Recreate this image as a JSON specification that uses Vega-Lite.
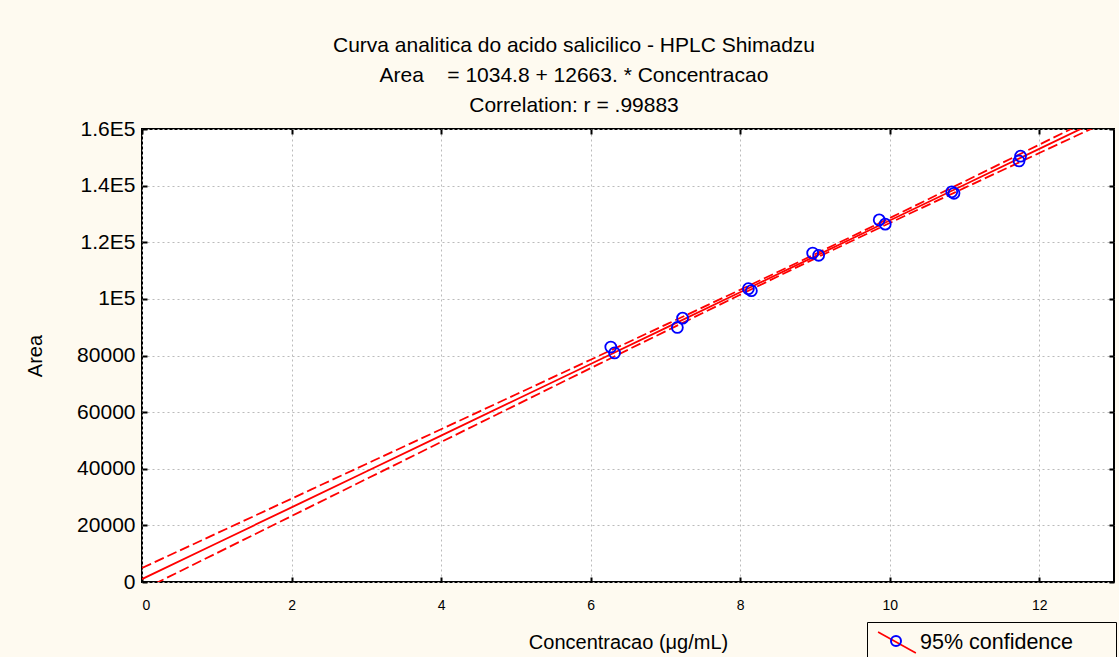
{
  "$schema": "https://vega.github.io/schema/vega-lite/v6.json",
  "width": 972,
  "height": 453,
  "autosize": "none",
  "padding": {"left": 142, "top": 129, "right": 5, "bottom": 75},
  "background": "#FEFAF0",
  "title": {
    "text": ["Curva analitica do acido salicilico - HPLC Shimadzu", "Area\u00a0\u00a0\u00a0 = 1034.8 + 12663. * Concentracao", "Correlation: r = .99883"],
    "anchor": "middle",
    "dx": -54,
    "fontSize": 21,
    "lineHeight": 30,
    "offset": 2,
    "font": "Liberation Sans",
    "fontWeight": "normal",
    "color": "black"
  },
  "datasets": {
    "pts": [
      {"c": 6.27, "a": 83000, "leg": "95% confidence"},
      {"c": 6.32, "a": 80900, "leg": "95% confidence"},
      {"c": 7.16, "a": 89900, "leg": "95% confidence"},
      {"c": 7.23, "a": 93200, "leg": "95% confidence"},
      {"c": 8.11, "a": 103600, "leg": "95% confidence"},
      {"c": 8.15, "a": 102900, "leg": "95% confidence"},
      {"c": 8.97, "a": 116200, "leg": "95% confidence"},
      {"c": 9.05, "a": 115400, "leg": "95% confidence"},
      {"c": 9.86, "a": 127900, "leg": "95% confidence"},
      {"c": 9.94, "a": 126400, "leg": "95% confidence"},
      {"c": 10.83, "a": 137800, "leg": "95% confidence"},
      {"c": 10.86, "a": 137300, "leg": "95% confidence"},
      {"c": 11.75, "a": 150400, "leg": "95% confidence"},
      {"c": 11.73, "a": 148700, "leg": "95% confidence"}
    ],
    "fit": [
      {"c": 0, "fit": 1035, "lo": -2862, "hi": 4932, "leg": "95% confidence"},
      {"c": 1, "fit": 13698, "lo": 10215, "hi": 17181, "leg": "95% confidence"},
      {"c": 2, "fit": 26361, "lo": 23290, "hi": 29432, "leg": "95% confidence"},
      {"c": 3, "fit": 39024, "lo": 36362, "hi": 41686, "leg": "95% confidence"},
      {"c": 4, "fit": 51687, "lo": 49428, "hi": 53946, "leg": "95% confidence"},
      {"c": 5, "fit": 64350, "lo": 62483, "hi": 66217, "leg": "95% confidence"},
      {"c": 6, "fit": 77013, "lo": 75522, "hi": 78504, "leg": "95% confidence"},
      {"c": 7, "fit": 89676, "lo": 88528, "hi": 90824, "leg": "95% confidence"},
      {"c": 8, "fit": 102339, "lo": 101459, "hi": 103219, "leg": "95% confidence"},
      {"c": 9, "fit": 115002, "lo": 114232, "hi": 115772, "leg": "95% confidence"},
      {"c": 10, "fit": 127665, "lo": 126789, "hi": 128541, "leg": "95% confidence"},
      {"c": 11, "fit": 140328, "lo": 139185, "hi": 141471, "leg": "95% confidence"},
      {"c": 12, "fit": 152991, "lo": 151508, "hi": 154474, "leg": "95% confidence"},
      {"c": 13, "fit": 165654, "lo": 163795, "hi": 167513, "leg": "95% confidence"}
    ]
  },
  "config": {
    "font": "Liberation Sans",
    "view": {"stroke": "black", "strokeWidth": 2, "fill": "white"},
    "axis": {
      "domain": false,
      "gridColor": "#BBBBBB",
      "gridDash": [2, 3],
      "gridWidth": 1,
      "tickColor": "black",
      "tickWidth": 2,
      "labelColor": "black",
      "titleColor": "black",
      "labelFont": "Liberation Sans",
      "titleFont": "Liberation Sans",
      "titleFontWeight": "normal"
    }
  },
  "resolve": {"axis": {"x": "independent", "y": "independent"}},
  "layer": [
    {
      "data": {"name": "fit"},
      "mark": {"type": "line", "clip": true, "strokeDash": [10, 4], "strokeWidth": 1.8, "interpolate": "monotone"},
      "encoding": {
        "x": {"field": "c", "type": "quantitative", "scale": {"domain": [0, 13], "nice": false}, "axis": null},
        "y": {"field": "hi", "type": "quantitative", "scale": {"domain": [0, 160000], "nice": false}, "axis": null},
        "color": {"field": "leg", "type": "nominal", "scale": {"range": ["#FF0000"]}}
      }
    },
    {
      "data": {"name": "fit"},
      "mark": {"type": "line", "clip": true, "strokeDash": [10, 4], "strokeWidth": 1.8, "interpolate": "monotone"},
      "encoding": {
        "x": {"field": "c", "type": "quantitative", "axis": null},
        "y": {"field": "lo", "type": "quantitative", "axis": null},
        "color": {"field": "leg", "type": "nominal", "scale": {"range": ["#FF0000"]}}
      }
    },
    {
      "data": {"name": "fit"},
      "mark": {"type": "line", "clip": true, "strokeWidth": 1.8},
      "encoding": {
        "x": {
          "field": "c", "type": "quantitative",
          "axis": {"orient": "bottom", "values": [0, 2, 4, 6, 8, 10, 12], "tickSize": -5, "labelPadding": 21, "labelFontSize": 14,
                   "title": "Concentracao (\u03bcg/mL)", "titleFontSize": 20, "titlePadding": 20, "grid": true}
        },
        "y": {
          "field": "fit", "type": "quantitative",
          "axis": {"orient": "left", "values": [0, 20000, 40000, 60000, 80000, 100000, 120000, 140000, 160000], "tickSize": -5, "labelPadding": 12, "labelFontSize": 21,
                   "labelExpr": "datum.value < 100000 ? '' + datum.value : (datum.value / 100000) + 'E5'",
                   "title": "Area", "titleFontSize": 20, "titlePadding": 31, "grid": true}
        },
        "color": {
          "field": "leg", "type": "nominal", "scale": {"range": ["#FF0000"]},
          "legend": {
            "orient": "none", "legendX": 725, "legendY": 493, "title": null,
            "symbolType": "M-0.9,-1L2.7,1", "symbolSize": 441, "symbolStrokeWidth": 1.6, "symbolStrokeColor": "#FF0000",
            "labelFontSize": 21.5, "labelColor": "black", "labelOffset": 21, "labelFont": "Liberation Sans", "labelLimit": 400,
            "labelExpr": "datum.label + '\u00a0\u00a0\u00a0\u2800'",
            "padding": 9, "strokeColor": "black"
          }
        }
      }
    },
    {
      "data": {"name": "pts"},
      "mark": {"type": "point", "filled": false, "size": 120, "strokeWidth": 1.8, "opacity": 1},
      "encoding": {
        "x": {"field": "c", "type": "quantitative",
              "axis": {"orient": "top", "values": [0, 2, 4, 6, 8, 10, 12], "tickSize": -5, "labels": false, "title": null, "grid": false}},
        "y": {"field": "a", "type": "quantitative",
              "axis": {"orient": "right", "values": [0, 20000, 40000, 60000, 80000, 100000, 120000, 140000, 160000], "tickSize": -5, "labels": false, "title": null, "grid": false}},
        "stroke": {
          "field": "leg", "type": "nominal", "scale": {"range": ["#0000FF"]},
          "legend": {
            "orient": "none", "legendX": 720, "legendY": 478, "title": null,
            "symbolType": "circle", "symbolSize": 100, "symbolStrokeWidth": 2, "symbolStrokeColor": "#0000FF", "symbolFillColor": "#FEFAF0",
            "labelFontSize": 20, "labelOpacity": 0, "labelExpr": "''", "padding": 24
          }
        }
      }
    }
  ]
}
